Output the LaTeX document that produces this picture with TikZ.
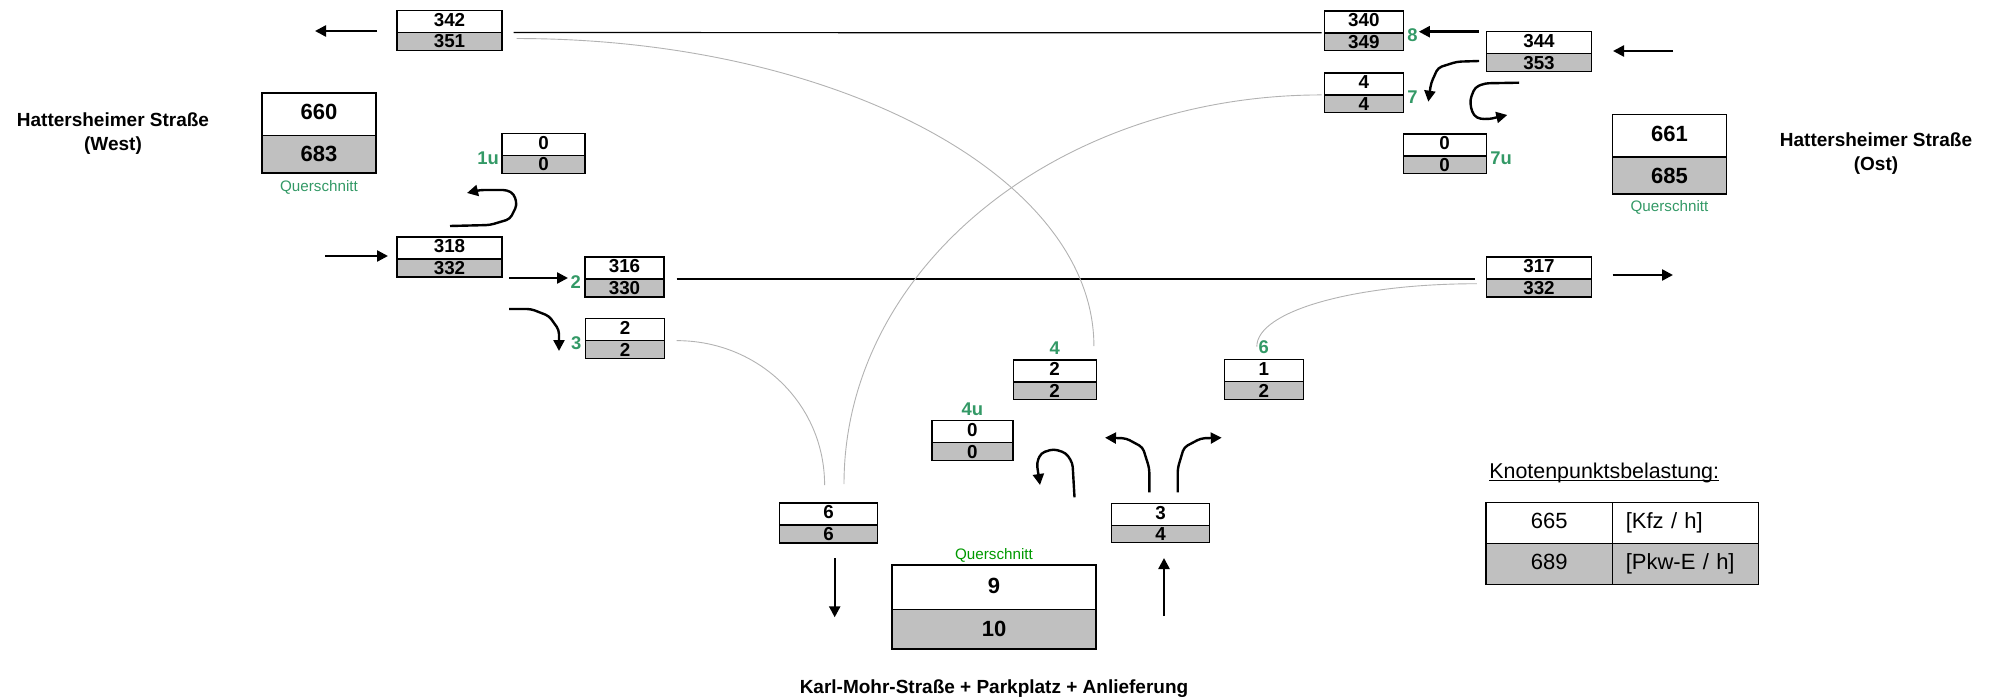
\documentclass[tikz,border=0pt]{standalone}
\usepackage{fontspec}
\setmainfont{Liberation Sans}
\usetikzlibrary{positioning,calc,arrows.meta,shapes.multipart}
\definecolor{Silver}{RGB}{192,192,192}
\definecolor{LblGreen}{RGB}{51,153,102}
\definecolor{QsGreen}{RGB}{0,153,0}
\tikzset{cnt/.style={rectangle split,rectangle split parts=2,draw,line width=0.7pt,rectangle split part fill={white,Silver},font=\fontsize{9.4}{10}\selectfont\bfseries,text width=#1,align=center,inner xsep=0pt,inner ysep=0.8pt,text height=6.8pt,text depth=1.9pt},
 big/.style={cnt=#1,font=\fontsize{11}{12}\selectfont\bfseries,inner ysep=5.1pt,text height=8pt,text depth=2.3pt},
 lbl/.style={text=LblGreen,font=\fontsize{9.2}{10}\selectfont\bfseries,inner sep=0pt},
 qs/.style={text=LblGreen,font=\fontsize{7.6}{9}\selectfont,inner sep=0pt},
 street/.style={font=\fontsize{9.5}{12}\selectfont\bfseries,align=center,inner sep=0pt},
 flow/.style={draw=gray!60,line width=0.45pt},
 link/.style={line width=0.6pt},
 arr/.style={line width=1.2pt,rounded corners=2pt,-{Triangle[length=5.5pt,width=5.5pt]}},
 tcell/.style={draw,line width=0.6pt,outer sep=0pt,minimum height=20.5pt,font=\fontsize{11}{13}\selectfont,text height=7.9pt,text depth=2.2pt}}

\begin{document}
\begin{tikzpicture}[x=0.5pt,y=-0.5pt]
\useasboundingbox (0,0) rectangle (1995,700);
% counting boxes
\node[cnt=52.5pt] (b342) at (449.5,30.5) {342\nodepart{two}351};
\node[big=57pt] (b660) at (319,133) {660\nodepart{two}683};
\node[cnt=41.5pt] (b1u) at (543.5,153.5) {0\nodepart{two}0};
\node[cnt=52.5pt] (b318) at (449.5,257) {318\nodepart{two}332};
\node[cnt=39.5pt] (b316) at (624.5,277) {316\nodepart{two}330};
\node[cnt=39.5pt] (b3) at (625,338.5) {2\nodepart{two}2};
\node[cnt=41.5pt] (b4) at (1054.7,379.7) {2\nodepart{two}2};
\node[cnt=39.5pt] (b6) at (1263.8,379.5) {1\nodepart{two}2};
\node[cnt=40.5pt] (b4u) at (972.3,440.7) {0\nodepart{two}0};
\node[cnt=49pt] (b66) at (828.6,523) {6\nodepart{two}6};
\node[cnt=48.8pt] (b34) at (1160.5,523) {3\nodepart{two}4};
\node[big=102pt,inner ysep=5.6pt] (b910) at (994,607) {9\nodepart{two}10};
\node[cnt=39.5pt] (b340) at (1363.8,30.8) {340\nodepart{two}349};
\node[cnt=52.5pt] (b344) at (1539,51.7) {344\nodepart{two}353};
\node[cnt=39.5pt] (b7) at (1363.8,92.7) {4\nodepart{two}4};
\node[cnt=41.5pt] (b7u) at (1444.7,153.8) {0\nodepart{two}0};
\node[big=57pt] (b661) at (1669.5,154.3) {661\nodepart{two}685};
\node[cnt=52.5pt] (b317) at (1539,277) {317\nodepart{two}332};
% stream numbers
\node[lbl,anchor=base east] (l1u) at ([xshift=-1pt]b1u.two west) {1u};
\node[lbl,anchor=base east] (l2) at ([xshift=-1.5pt]b316.two west) {2};
\node[lbl,anchor=base east] (l3) at ([xshift=-1.5pt]b3.two west) {3};
\node[lbl,anchor=base west] (l8) at ([xshift=1.5pt]b340.two east) {8};
\node[lbl,anchor=base west] (l7) at ([xshift=1.5pt]b7.two east) {7};
\node[lbl,anchor=base west] (l7u) at ([xshift=1.5pt]b7u.two east) {7u};
\node[lbl,anchor=base] (l4) at ([yshift=2.5pt]b4.north) {4};
\node[lbl,anchor=base] (l6) at ([yshift=2.5pt]b6.north) {6};
\node[lbl,anchor=base] (l4u) at ([yshift=2.5pt]b4u.north) {4u};
\node[qs,anchor=north] (q660) at ([yshift=-3.3pt]b660.south) {Querschnitt};
\node[qs,anchor=north] (q661) at ([yshift=-2.4pt]b661.south) {Querschnitt};
\node[qs,text=QsGreen,anchor=base] (q910) at ([yshift=2.4pt]b910.north) {Querschnitt};
% streets
\node[street] (west) at (113,134) {Hattersheimer Straße\\(West)};
\node[street] (ost) at (1876,154) {Hattersheimer Straße\\(Ost)};
\node[street,anchor=base] (south) at (994,693.8) {Karl-Mohr-Straße + Parkplatz + Anlieferung};
% flows
\draw[link,shorten <=5.5pt,shorten >=1pt] (b342.text split east) -- (b340.text split west);
\draw[link,shorten <=6pt,shorten >=5.2pt] (b316.text split east) -- (b317.text split west);
\coordinate (cA) at ([shift={(-3,-13)}]b4.north east);
\coordinate (cB) at ([shift={(15.4,-18.3)}]b66.north);
\coordinate (cC) at ([shift={(-4,-17.3)}]b66.north);
\coordinate (cD) at ([shift={(-7,-12.3)}]b6.north);
\draw[flow] ([shift={(14,6)}]b342.text split east) .. controls +(318.5,0) and +(0,-170) .. (cA);
\draw[flow] ([xshift=-1pt]b7.text split west) .. controls +(-264,0) and +(0,-216) .. (cB);
\draw[flow] ([xshift=5.75pt]b3.text split east) .. controls +(82,0) and +(0,-81) .. (cC);
\draw[flow] ([shift={(-9,4.7)}]b317.text split west) .. controls +(-122,0) and +(0,-35.7) .. (cD);
% lane arrows
\draw[arr] (377,31) -- (315,31);
\draw[arr] (450,226) -- (490,225) -- (510,219) -- (517,205) -- (514,194) -- (507,190) -- (480,190) -- (467,193);
\draw[arr] (325,256) -- (388,256);
\draw[arr] (509,278) -- (568,278);
\draw[arr] (509,309) -- (531,309) -- (549,316) -- (559,330) -- (559,351);
\draw[arr] (1478.6,31.7) -- (1418.8,31.7);
\draw[arr] (1673,51) -- (1613,51);
\draw[arr] (1479,61) -- (1457,61.7) -- (1438,67.7) -- (1431,83.3) -- (1428.3,101.7);
\draw[arr] (1519,82.7) -- (1485,83.3) -- (1475,87.3) -- (1470,100) -- (1471.7,111.7) -- (1476.7,118.3) -- (1488.3,119.3) -- (1507.3,115);
\draw[arr] (1612.5,275) -- (1673,275);
\draw[arr] (1149.3,492.3) -- (1149.3,468.3) -- (1142.7,447.3) -- (1126,438.3) -- (1105,437.7);
\draw[arr] (1177.7,492.3) -- (1177.7,468.3) -- (1184,447.3) -- (1201,438.3) -- (1221.7,437.7);
\draw[arr] (1074.5,497.3) -- (1072.5,463) -- (1066,453) -- (1053.6,449) -- (1041,453) -- (1036.7,463) -- (1040,485);
\draw[arr] (834.7,558) -- (834.7,617.3);
\draw[arr] (1164,616) -- (1164,558);
% legend
\node[anchor=base west,inner sep=0pt,font=\fontsize{10.7}{13}\selectfont] (kn) at (1489,478.3) {Knotenpunktsbelastung:};
\draw[line width=0.5pt] ([yshift=-1.2pt]kn.base west) -- ([yshift=-1.2pt]kn.base east);
\node[tcell,minimum width=63.2pt] (tv1) at (1549.2,522.8) {665};
\node[tcell,text width=59.6pt,inner xsep=6.7pt,align=left,right=0pt of tv1] (tu1) {[Kfz / h]};
\node[tcell,fill=Silver,minimum width=63.2pt,below=0pt of tv1] (tv2) {689};
\node[tcell,fill=Silver,text width=59.6pt,inner xsep=6.7pt,align=left,below=0pt of tu1] (tu2) {[Pkw-E / h]};
\end{tikzpicture}
\end{document}
